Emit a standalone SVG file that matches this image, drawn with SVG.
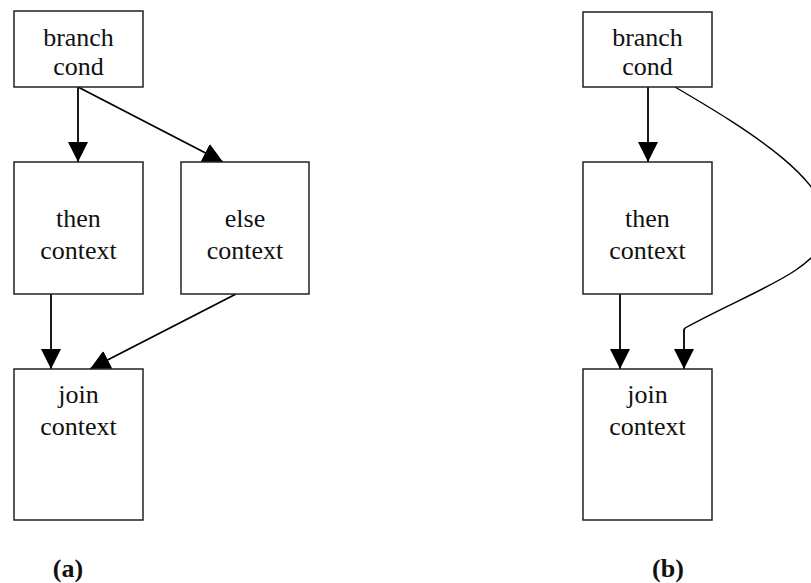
<svg xmlns="http://www.w3.org/2000/svg" width="811" height="583" viewBox="0 0 811 583">
<defs>
<marker id="ah" markerUnits="userSpaceOnUse" markerWidth="20" markerHeight="20" refX="20" refY="10" orient="auto" viewBox="0 0 20 20">
<path d="M0,0 L20,10 L0,20 z" fill="#000"/>
</marker>
<style>
.box{fill:#fff;stroke:#222;stroke-width:1.5}
.e{fill:none;stroke:#000;stroke-width:1.8;marker-end:url(#ah)}
.c{fill:none;stroke:#000;stroke-width:1.4}
text{font-family:"Liberation Serif","Times New Roman",serif;font-size:26px;fill:#111;text-anchor:middle}
.lab{font-weight:bold}
</style>
</defs>
<rect width="811" height="583" fill="#fff"/>
<g id="connectors">
<line class="e" x1="78" y1="87" x2="78" y2="162"/>
<line class="e" x1="78" y1="87" x2="223" y2="162"/>
<line class="e" x1="51" y1="294" x2="51" y2="369"/>
<line class="e" x1="236" y1="294" x2="90" y2="369"/>
<line class="e" x1="648" y1="87" x2="648" y2="162"/>
<line class="e" x1="620" y1="294" x2="620" y2="369"/>
<path class="c" d="M675,87 C745,128 840,185 826,235 C816,272 750,292 685,328"/>
<path class="e" d="M685,328 L684,330 L684,369"/>
</g>
<g id="a-branch"><rect class="box" x="14" y="11" width="129" height="76"/><text x="78.5" y="46">branch</text><text x="78.5" y="75">cond</text></g>
<g id="a-then"><rect class="box" x="14" y="162" width="129" height="132"/><text x="78.5" y="227">then</text><text x="78.5" y="259">context</text></g>
<g id="a-else"><rect class="box" x="181" y="162" width="128" height="132"/><text x="245" y="227">else</text><text x="245" y="259">context</text></g>
<g id="a-join"><rect class="box" x="14" y="369" width="129" height="151"/><text x="78.5" y="403">join</text><text x="78.5" y="435">context</text></g>
<g id="b-branch"><rect class="box" x="583" y="12" width="129" height="75"/><text x="647.5" y="46">branch</text><text x="647.5" y="75">cond</text></g>
<g id="b-then"><rect class="box" x="583" y="162" width="129" height="132"/><text x="647.5" y="227">then</text><text x="647.5" y="259">context</text></g>
<g id="b-join"><rect class="box" x="583" y="369" width="129" height="151"/><text x="647.5" y="403">join</text><text x="647.5" y="435">context</text></g>
<text class="lab" x="68" y="577">(a)</text>
<text class="lab" x="668" y="577">(b)</text>
</svg>
